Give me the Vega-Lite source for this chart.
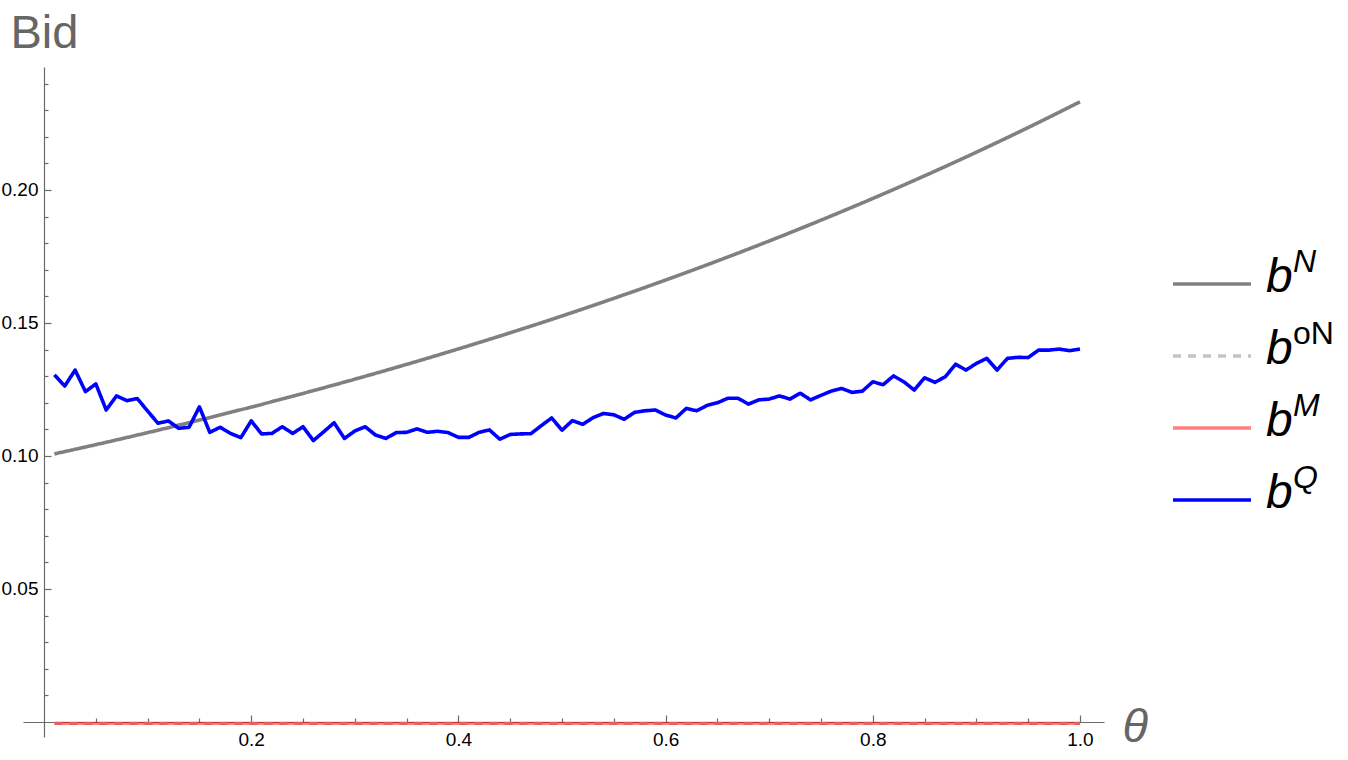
{
  "$schema": "https://vega.github.io/schema/vega-lite/v6.json",
  "width": 1081,
  "height": 670,
  "autosize": {"type": "none"},
  "padding": {"left": 23, "top": 67, "right": 244, "bottom": 23},
  "config": {"view": {"stroke": null}, "font": "Liberation Sans"},
  "datasets": {
    "bids": [
      {"theta": 0.01, "series": "boN", "bid": -0.0005},
      {"theta": 1.0, "series": "boN", "bid": -0.0005},
      {"theta": 0.01, "series": "bM", "bid": -0.0005},
      {"theta": 1.0, "series": "bM", "bid": -0.0005},
      {"theta": 0.01, "series": "bN", "bid": 0.1008},
      {"theta": 0.05, "series": "bN", "bid": 0.10427},
      {"theta": 0.10, "series": "bN", "bid": 0.10878},
      {"theta": 0.15, "series": "bN", "bid": 0.11349},
      {"theta": 0.20, "series": "bN", "bid": 0.11840},
      {"theta": 0.25, "series": "bN", "bid": 0.12352},
      {"theta": 0.30, "series": "bN", "bid": 0.12887},
      {"theta": 0.35, "series": "bN", "bid": 0.13444},
      {"theta": 0.40, "series": "bN", "bid": 0.14026},
      {"theta": 0.45, "series": "bN", "bid": 0.14632},
      {"theta": 0.50, "series": "bN", "bid": 0.15265},
      {"theta": 0.55, "series": "bN", "bid": 0.15926},
      {"theta": 0.60, "series": "bN", "bid": 0.16615},
      {"theta": 0.65, "series": "bN", "bid": 0.17333},
      {"theta": 0.70, "series": "bN", "bid": 0.18083},
      {"theta": 0.75, "series": "bN", "bid": 0.18866},
      {"theta": 0.80, "series": "bN", "bid": 0.19682},
      {"theta": 0.85, "series": "bN", "bid": 0.20533},
      {"theta": 0.90, "series": "bN", "bid": 0.21421},
      {"theta": 0.95, "series": "bN", "bid": 0.22348},
      {"theta": 1.00, "series": "bN", "bid": 0.23315},
      {"theta": 0.01, "series": "bQ", "bid": 0.1305},
      {"theta": 0.02, "series": "bQ", "bid": 0.1263},
      {"theta": 0.03, "series": "bQ", "bid": 0.1323},
      {"theta": 0.04, "series": "bQ", "bid": 0.1242},
      {"theta": 0.05, "series": "bQ", "bid": 0.1271},
      {"theta": 0.06, "series": "bQ", "bid": 0.1173},
      {"theta": 0.07, "series": "bQ", "bid": 0.1226},
      {"theta": 0.08, "series": "bQ", "bid": 0.1208},
      {"theta": 0.09, "series": "bQ", "bid": 0.1216},
      {"theta": 0.10, "series": "bQ", "bid": 0.1169},
      {"theta": 0.11, "series": "bQ", "bid": 0.1123},
      {"theta": 0.12, "series": "bQ", "bid": 0.1132},
      {"theta": 0.13, "series": "bQ", "bid": 0.1104},
      {"theta": 0.14, "series": "bQ", "bid": 0.1108},
      {"theta": 0.15, "series": "bQ", "bid": 0.1185},
      {"theta": 0.16, "series": "bQ", "bid": 0.1089},
      {"theta": 0.17, "series": "bQ", "bid": 0.1108},
      {"theta": 0.18, "series": "bQ", "bid": 0.1085},
      {"theta": 0.19, "series": "bQ", "bid": 0.1069},
      {"theta": 0.20, "series": "bQ", "bid": 0.1132},
      {"theta": 0.21, "series": "bQ", "bid": 0.1083},
      {"theta": 0.22, "series": "bQ", "bid": 0.1085},
      {"theta": 0.23, "series": "bQ", "bid": 0.1110},
      {"theta": 0.24, "series": "bQ", "bid": 0.1085},
      {"theta": 0.25, "series": "bQ", "bid": 0.1110},
      {"theta": 0.26, "series": "bQ", "bid": 0.1058},
      {"theta": 0.27, "series": "bQ", "bid": 0.1091},
      {"theta": 0.28, "series": "bQ", "bid": 0.1125},
      {"theta": 0.29, "series": "bQ", "bid": 0.1066},
      {"theta": 0.30, "series": "bQ", "bid": 0.1094},
      {"theta": 0.31, "series": "bQ", "bid": 0.1110},
      {"theta": 0.32, "series": "bQ", "bid": 0.1079},
      {"theta": 0.33, "series": "bQ", "bid": 0.1066},
      {"theta": 0.34, "series": "bQ", "bid": 0.1088},
      {"theta": 0.35, "series": "bQ", "bid": 0.1089},
      {"theta": 0.36, "series": "bQ", "bid": 0.1102},
      {"theta": 0.37, "series": "bQ", "bid": 0.1089},
      {"theta": 0.38, "series": "bQ", "bid": 0.1093},
      {"theta": 0.39, "series": "bQ", "bid": 0.1088},
      {"theta": 0.40, "series": "bQ", "bid": 0.1070},
      {"theta": 0.41, "series": "bQ", "bid": 0.1070},
      {"theta": 0.42, "series": "bQ", "bid": 0.1089},
      {"theta": 0.43, "series": "bQ", "bid": 0.1098},
      {"theta": 0.44, "series": "bQ", "bid": 0.1063},
      {"theta": 0.45, "series": "bQ", "bid": 0.1081},
      {"theta": 0.46, "series": "bQ", "bid": 0.1083},
      {"theta": 0.47, "series": "bQ", "bid": 0.1084},
      {"theta": 0.48, "series": "bQ", "bid": 0.1114},
      {"theta": 0.49, "series": "bQ", "bid": 0.1143},
      {"theta": 0.50, "series": "bQ", "bid": 0.1097},
      {"theta": 0.51, "series": "bQ", "bid": 0.1133},
      {"theta": 0.52, "series": "bQ", "bid": 0.1119},
      {"theta": 0.53, "series": "bQ", "bid": 0.1144},
      {"theta": 0.54, "series": "bQ", "bid": 0.1160},
      {"theta": 0.55, "series": "bQ", "bid": 0.1155},
      {"theta": 0.56, "series": "bQ", "bid": 0.1138},
      {"theta": 0.57, "series": "bQ", "bid": 0.1164},
      {"theta": 0.58, "series": "bQ", "bid": 0.1170},
      {"theta": 0.59, "series": "bQ", "bid": 0.1173},
      {"theta": 0.60, "series": "bQ", "bid": 0.1154},
      {"theta": 0.61, "series": "bQ", "bid": 0.1143},
      {"theta": 0.62, "series": "bQ", "bid": 0.1179},
      {"theta": 0.63, "series": "bQ", "bid": 0.1170},
      {"theta": 0.64, "series": "bQ", "bid": 0.1190},
      {"theta": 0.65, "series": "bQ", "bid": 0.1200},
      {"theta": 0.66, "series": "bQ", "bid": 0.1217},
      {"theta": 0.67, "series": "bQ", "bid": 0.1217},
      {"theta": 0.68, "series": "bQ", "bid": 0.1195},
      {"theta": 0.69, "series": "bQ", "bid": 0.1211},
      {"theta": 0.70, "series": "bQ", "bid": 0.1214},
      {"theta": 0.71, "series": "bQ", "bid": 0.1226},
      {"theta": 0.72, "series": "bQ", "bid": 0.1214},
      {"theta": 0.73, "series": "bQ", "bid": 0.1236},
      {"theta": 0.74, "series": "bQ", "bid": 0.1211},
      {"theta": 0.75, "series": "bQ", "bid": 0.1228},
      {"theta": 0.76, "series": "bQ", "bid": 0.1244},
      {"theta": 0.77, "series": "bQ", "bid": 0.1254},
      {"theta": 0.78, "series": "bQ", "bid": 0.1239},
      {"theta": 0.79, "series": "bQ", "bid": 0.1244},
      {"theta": 0.80, "series": "bQ", "bid": 0.1279},
      {"theta": 0.81, "series": "bQ", "bid": 0.1268},
      {"theta": 0.82, "series": "bQ", "bid": 0.1301},
      {"theta": 0.83, "series": "bQ", "bid": 0.1279},
      {"theta": 0.84, "series": "bQ", "bid": 0.1248},
      {"theta": 0.85, "series": "bQ", "bid": 0.1294},
      {"theta": 0.86, "series": "bQ", "bid": 0.1277},
      {"theta": 0.87, "series": "bQ", "bid": 0.1298},
      {"theta": 0.88, "series": "bQ", "bid": 0.1345},
      {"theta": 0.89, "series": "bQ", "bid": 0.1323},
      {"theta": 0.90, "series": "bQ", "bid": 0.1348},
      {"theta": 0.91, "series": "bQ", "bid": 0.1367},
      {"theta": 0.92, "series": "bQ", "bid": 0.1323},
      {"theta": 0.93, "series": "bQ", "bid": 0.1367},
      {"theta": 0.94, "series": "bQ", "bid": 0.1371},
      {"theta": 0.95, "series": "bQ", "bid": 0.1370},
      {"theta": 0.96, "series": "bQ", "bid": 0.1398},
      {"theta": 0.97, "series": "bQ", "bid": 0.1398},
      {"theta": 0.98, "series": "bQ", "bid": 0.1402},
      {"theta": 0.99, "series": "bQ", "bid": 0.1396},
      {"theta": 1.00, "series": "bQ", "bid": 0.1402}
    ],
    "legend": [
      {"series": "bN", "base": "b", "sup": "N"},
      {"series": "boN", "base": "b", "sup": "oN"},
      {"series": "bM", "base": "b", "sup": "M"},
      {"series": "bQ", "base": "b", "sup": "Q"}
    ]
  },
  "resolve": {"scale": {"y": "independent"}},
  "layer": [
    {
      "data": {"name": "bids"},
      "encoding": {
        "x": {
          "field": "theta",
          "type": "quantitative",
          "scale": {"domain": [-0.0203, 1.0232], "nice": false, "zero": false},
          "axis": {
            "offset": -15,
            "grid": false,
            "values": [0.05, 0.1, 0.15, 0.2, 0.25, 0.3, 0.35, 0.4, 0.45, 0.5, 0.55, 0.6, 0.65, 0.7, 0.75, 0.8, 0.85, 0.9, 0.95, 1.0],
            "tickSize": {"condition": {"test": "abs(datum.value*5 - round(datum.value*5)) < 0.001", "value": -7}, "value": -4},
            "labelExpr": "abs(datum.value*5 - round(datum.value*5)) < 0.001 ? format(datum.value, '.1f') : ''",
            "labelOverlap": false,
            "labelFlush": false,
            "labelFontSize": 19,
            "labelColor": "#000000",
            "labelPadding": 15,
            "domainColor": "#6b6b6b",
            "domainWidth": 1.2,
            "tickColor": "#6b6b6b",
            "tickWidth": 1.2,
            "title": "θ",
            "titleFontSize": 47,
            "titleFontStyle": "italic",
            "titleFontWeight": "normal",
            "titleColor": "#666666",
            "titleAlign": "left",
            "titleBaseline": "alphabetic",
            "titleAngle": 0,
            "titleX": 1099,
            "titleY": 19
          }
        },
        "y": {
          "field": "bid",
          "type": "quantitative",
          "scale": {"domain": [-0.00564, 0.24624], "nice": false, "zero": false},
          "axis": {
            "offset": -21,
            "grid": false,
            "values": [0.01, 0.02, 0.03, 0.04, 0.05, 0.06, 0.07, 0.08, 0.09, 0.1, 0.11, 0.12, 0.13, 0.14, 0.15, 0.16, 0.17, 0.18, 0.19, 0.2, 0.21, 0.22, 0.23, 0.24],
            "tickSize": {"condition": {"test": "abs(datum.value*20 - round(datum.value*20)) < 0.001", "value": -7}, "value": -4},
            "labelExpr": "abs(datum.value*20 - round(datum.value*20)) < 0.001 ? format(datum.value, '.2f') : ''",
            "labelOverlap": false,
            "labelFlush": false,
            "labelFontSize": 19,
            "labelColor": "#000000",
            "labelPadding": 13,
            "domainColor": "#6b6b6b",
            "domainWidth": 1.2,
            "tickColor": "#6b6b6b",
            "tickWidth": 1.2,
            "title": "Bid",
            "titleFontSize": 47,
            "titleFontWeight": "normal",
            "titleColor": "#666666",
            "titleAngle": 0,
            "titleAlign": "left",
            "titleBaseline": "alphabetic",
            "titleX": -34,
            "titleY": -20
          }
        },
        "color": {
          "field": "series",
          "type": "nominal",
          "scale": {"domain": ["bN", "boN", "bM", "bQ"], "range": ["#808080", "#c4c4c4", "rgba(255,0,0,0.5)", "#0000ff"]},
          "legend": null
        },
        "strokeDash": {
          "field": "series",
          "type": "nominal",
          "scale": {"domain": ["bN", "boN", "bM", "bQ"], "range": [[1, 0], [8, 7], [1, 0], [1, 0]]},
          "legend": null
        }
      },
      "layer": [
        {
          "transform": [{"filter": "datum.series === 'boN'"}],
          "mark": {"type": "line", "strokeWidth": 3.2}
        },
        {
          "transform": [{"filter": "datum.series === 'bM'"}],
          "mark": {"type": "line", "strokeWidth": 3.2}
        },
        {
          "transform": [{"filter": "datum.series === 'bN'"}],
          "mark": {"type": "line", "strokeWidth": 3.6, "interpolate": "monotone"}
        },
        {
          "transform": [{"filter": "datum.series === 'bQ'"}],
          "mark": {"type": "line", "strokeWidth": 3.6, "strokeJoin": "round"}
        }
      ]
    },
    {
      "data": {"name": "legend"},
      "encoding": {
        "y": {
          "field": "series",
          "type": "nominal",
          "scale": {"type": "point", "domain": ["bN", "boN", "bM", "bQ"], "range": [217, 433], "padding": 0},
          "axis": null
        }
      },
      "layer": [
        {
          "mark": {"type": "rule", "strokeWidth": 3.5, "clip": false},
          "encoding": {
            "x": {"datum": 1.0898, "type": "quantitative"},
            "x2": {"datum": 1.1651},
            "color": {"field": "series", "type": "nominal", "legend": null},
            "strokeDash": {"field": "series", "type": "nominal", "legend": null}
          }
        },
        {
          "mark": {"type": "text", "align": "left", "baseline": "alphabetic", "dy": 8, "fontSize": 48, "fontStyle": "italic", "color": "#000000", "clip": false},
          "encoding": {
            "x": {"datum": 1.1795, "type": "quantitative"},
            "text": {"field": "base"}
          }
        },
        {
          "transform": [{"filter": "datum.series !== 'boN'"}],
          "mark": {"type": "text", "align": "left", "baseline": "alphabetic", "dy": -12, "fontSize": 32, "fontStyle": "italic", "color": "#000000", "clip": false},
          "encoding": {
            "x": {"datum": 1.2056, "type": "quantitative"},
            "text": {"field": "sup"}
          }
        },
        {
          "transform": [{"filter": "datum.series === 'boN'"}],
          "mark": {"type": "text", "align": "left", "baseline": "alphabetic", "dy": -12, "fontSize": 32, "fontStyle": "normal", "color": "#000000", "clip": false},
          "encoding": {
            "x": {"datum": 1.2056, "type": "quantitative"},
            "text": {"field": "sup"}
          }
        }
      ]
    }
  ]
}
